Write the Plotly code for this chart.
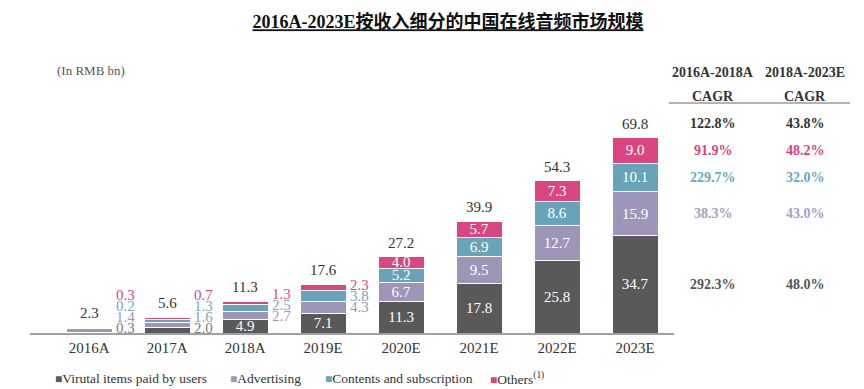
import plotly.graph_objects as go

# ---------------- data ----------------
categories = ["2016A", "2017A", "2018A", "2019E", "2020E", "2021E", "2022E", "2023E"]
series_names = ["Virutal items paid by users", "Advertising",
                "Contents and subscription", "Others<sup>(1)</sup>"]
virtual = [0.3, 2.0, 4.9, 7.1, 11.3, 17.8, 25.8, 34.7]
advertising = [1.4, 1.6, 2.7, 4.3, 6.7, 9.5, 12.7, 15.9]
contents = [0.2, 1.3, 2.5, 3.8, 5.2, 6.9, 8.6, 10.1]
others = [0.3, 0.7, 1.3, 2.3, 4.0, 5.7, 7.3, 9.0]
totals = [2.3, 5.6, 11.3, 17.6, 27.2, 39.9, 54.3, 69.8]

cagr_16_18 = [292.3, 38.3, 229.7, 91.9]   # per series (same order as series_names)
cagr_18_23 = [48.0, 43.0, 32.0, 48.2]
cagr_16_18_total = 122.8
cagr_18_23_total = 43.8

# ---------------- styles ----------------
bar_colors = ["#595959", "#9e96b9", "#67a3b9", "#db4680"]
side_colors = ["#7a7a7a", "#9e96b9", "#6eaac1", "#e0457f"]
table_colors = ["#555555", "#a8a0c4", "#6aa8c0", "#d9437c"]
FONT = "Liberation Serif, Times New Roman, serif"
TITLE_FONT = "Liberation Serif, Noto Sans CJK SC, serif"

series = [virtual, advertising, contents, others]
n = len(categories)

def is_inside(v, t):
    return v >= 4.5 or t >= 20

fig = go.Figure()
for k, vals in enumerate(series):
    txt = [f"{v:.1f}" if is_inside(v, totals[i]) else " " for i, v in enumerate(vals)]
    fig.add_trace(go.Bar(
        x=categories, y=vals, name=series_names[k],
        marker=dict(color=bar_colors[k], line=dict(color="white", width=1)),
        width=0.59, text=txt, textposition="inside", insidetextanchor="middle",
        textangle=0, textfont=dict(color="white", size=15, family=FONT),
        showlegend=False, hoverinfo="skip",
    ))

annotations = []

def ann(**kw):
    d = dict(showarrow=False, xanchor="center", yanchor="middle")
    d.update(kw)
    annotations.append(d)

# side labels for small segments
for i in range(n):
    bottom = 0.0
    prev = 1.8 - 3.9
    for k, vals in enumerate(series):
        v = vals[i]
        center = bottom + v / 2
        bottom += v
        if is_inside(v, totals[i]):
            continue
        y = max(center, prev + 3.9)
        prev = y
        ann(x=i + 0.46, y=y, xref="x", yref="y", text=f"{v:.1f}",
            font=dict(size=15, color=side_colors[k], family=FONT))

# totals above bars
for i in range(n):
    top = sum(s[i] for s in series)
    ann(x=i, y=top, xref="x", yref="y", text=f"{totals[i]:.1f}", yanchor="bottom", yshift=4,
        font=dict(size=15, color="#333333", family=FONT))

# CAGR table (rows aligned with last bar's segments)
def px_to_paper_x(p):
    return (p - 30) / 644.0

def px_to_paper_y(p):
    return (333 - p) / 224.0

col1 = px_to_paper_x(713)
col2 = px_to_paper_x(805)
hdr_font = dict(size=14, color="#333333", family=FONT)
ann(x=col1, y=px_to_paper_y(72), xref="paper", yref="paper", text="<b>2016A-2018A</b>", font=hdr_font)
ann(x=col2, y=px_to_paper_y(72), xref="paper", yref="paper", text="<b>2018A-2023E</b>", font=hdr_font)
ann(x=col1, y=px_to_paper_y(96), xref="paper", yref="paper", text="<b>CAGR</b>", font=hdr_font)
ann(x=col2, y=px_to_paper_y(96), xref="paper", yref="paper", text="<b>CAGR</b>", font=hdr_font)

last = n - 1
top_last = sum(s[last] for s in series)
ann(x=col1, y=top_last + 5, xref="paper", yref="y", text=f"<b>{cagr_16_18_total:.1f}%</b>", font=hdr_font)
ann(x=col2, y=top_last + 5, xref="paper", yref="y", text=f"<b>{cagr_18_23_total:.1f}%</b>", font=hdr_font)
bottom = 0.0
for k, vals in enumerate(series):
    c = bottom + vals[last] / 2
    bottom += vals[last]
    for col, arr in [(col1, cagr_16_18), (col2, cagr_18_23)]:
        ann(x=col, y=c, xref="paper", yref="y", text=f"<b>{arr[k]:.1f}%</b>",
            font=dict(size=14, color=table_colors[k], family=FONT))

# unit label
ann(x=px_to_paper_x(55), y=px_to_paper_y(70), xref="paper", yref="paper",
    text="(In RMB bn)", xanchor="left", font=dict(size=13, color="#555555", family=FONT))

# custom legend
legend_x = [53, 228, 323, 488]
for k, name in enumerate(series_names):
    ann(x=px_to_paper_x(legend_x[k]), y=px_to_paper_y(378), xref="paper", yref="paper",
        xanchor="left",
        text=f"<span style='color:{bar_colors[k]};font-size:12px'>■</span>{name}",
        font=dict(size=13.5, color="#333333", family=FONT))

shapes = [dict(type="line", xref="paper", yref="paper",
               x0=px_to_paper_x(669), x1=px_to_paper_x(850),
               y0=px_to_paper_y(103), y1=px_to_paper_y(103),
               line=dict(color="#999999", width=1.5))]

fig.update_layout(
    barmode="stack",
    width=864, height=389,
    margin=dict(l=30, r=190, t=109, b=56),
    paper_bgcolor="white", plot_bgcolor="white",
    title=dict(text="<b>2016A-2023E按收入细分的中国在线音频市场规模</b>",
               x=448 / 864, xref="container", xanchor="center",
               y=1 - 22 / 389, yref="container", yanchor="middle",
               font=dict(size=18, color="#111111", family=TITLE_FONT, lineposition="under")),
    xaxis=dict(type="category", range=[-0.76, 7.5], showline=True, linecolor="#a0a0a0",
               linewidth=1.5, ticks="", showgrid=False, zeroline=False,
               tickfont=dict(size=15, color="#333333", family=FONT), fixedrange=True),
    yaxis=dict(range=[0, 80], visible=False, showgrid=False, zeroline=False, fixedrange=True),
    uniformtext=dict(minsize=15, mode="show"),
    annotations=annotations,
    shapes=shapes,
    showlegend=False,
)

fig.write_html("out.html", config={"displayModeBar": False},
               post_script="document.body.style.margin='0px';")
